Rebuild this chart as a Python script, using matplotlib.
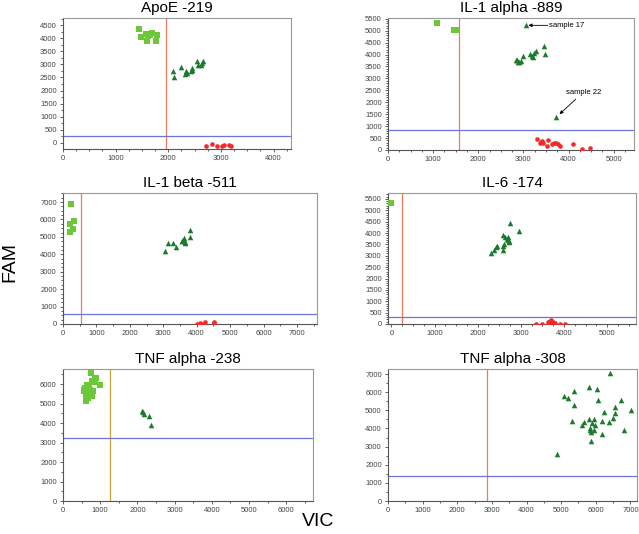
import matplotlib.pyplot as plt
from matplotlib.ticker import MultipleLocator

plt.rcParams['font.family'] = ['Liberation Sans', 'DejaVu Sans']

W, H = 639, 534

# ApoE -219
apoe_sq_x = [1445, 1477, 1572, 1590, 1622, 1698, 1781, 1768, 1654]
apoe_sq_y = [4340, 4034, 4148, 3893, 4097, 4187, 4110, 3893, 4122]
apoe_tri_x = [2097, 2110, 2243, 2338, 2325, 2351, 2446, 2458, 2433, 2541, 2560, 2636, 2667, 2617]
apoe_tri_y = [2748, 2534, 2916, 2737, 2622, 2660, 2850, 2786, 2748, 3142, 2977, 3040, 3130, 2977]
apoe_cir_x = [2712, 2826, 2921, 3028, 3055, 3156, 3188]
apoe_cir_y = [-115, -50, -100, -100, -60, -80, -115]
apoe_cut = (1960, 270)

# IL-1 alpha -889
il1a_sq_x = [1091, 1460, 1504, 1485]
il1a_sq_y = [5323, 5042, 5028, 5035]
il1a_tri_x = [3060, 2861, 2898, 2936, 2993, 3142, 3201, 3230, 3274, 3458, 3473, 3208, 2876, 2839, 3724]
il1a_tri_y = [5223, 3782, 3684, 3740, 3950, 4020, 3950, 4061, 4160, 4340, 4020, 3894, 3700, 3760, 1400]
il1a_cir_x = [3290, 3363, 3414, 3436, 3524, 3546, 3634, 3678, 3732, 3768, 3805, 4100, 4307, 4469, 3385]
il1a_cir_y = [475, 307, 378, 281, 168, 407, 239, 281, 307, 239, 168, 239, 42, 97, 330]
il1a_cut = (1578, 826)

# IL-1 beta -511
il1b_sq_x = [240, 219, 338, 299, 219]
il1b_sq_y = [6885, 5737, 5886, 5450, 5278]
il1b_tri_x = [3042, 3132, 3293, 3371, 3563, 3593, 3632, 3563, 3653, 3790, 3790, 3662]
il1b_tri_y = [4166, 4647, 4664, 4435, 4739, 4836, 4951, 4780, 4647, 5410, 4969, 4680]
il1b_cir_x = [4012, 4090, 4162, 4261, 4509, 4509]
il1b_cir_y = [17, 57, 0, 92, 92, 57]
il1b_cut = (540, 574)

# IL-6 -174
il6_sq_x = [0]
il6_sq_y = [5300]
il6_tri_x = [2309, 2378, 2418, 2441, 2581, 2595, 2610, 2595, 2633, 2673, 2711, 2726, 2756, 2958, 2696, 2733]
il6_tri_y = [3124, 3270, 3387, 3446, 3270, 3416, 3534, 3900, 3812, 3754, 3812, 3636, 4443, 4105, 3710, 3607]
il6_cir_x = [3353, 3492, 3638, 3677, 3700, 3740, 3800, 3910, 4025, 3654]
il6_cir_y = [0, 20, 80, 120, 160, 80, 40, 20, 20, 40]
il6_cut = (250, 320)

# TNF alpha -238
tnf238_sq_x = [759, 866, 777, 847, 1000, 643, 686, 598, 732, 794, 552, 643, 713, 616, 777, 670, 625, 580, 885, 982, 552, 625]
tnf238_sq_y = [6549, 6327, 6138, 6086, 5967, 5932, 5829, 5710, 5710, 5623, 5623, 5538, 5504, 5418, 5366, 5281, 5144, 5796, 6310, 5967, 5710, 5160]
tnf238_tri_x = [2117, 2180, 2322, 2359, 2140]
tnf238_tri_y = [4595, 4475, 4372, 3910, 4540]
tnf238_cut = (1250, 3220)

# TNF alpha -308
tnf308_tri_x = [6408, 5801, 6023, 5367, 5087, 5202, 6052, 6725, 5376, 6543, 7014, 6234, 6552, 5309, 5801,
                5954, 5647, 5607, 5887, 5983, 6167, 6370, 6503, 5829, 5829, 5945, 6821, 6176, 5849, 4884, 5868]
tnf308_tri_y = [7036, 6260, 6188, 6078, 5800, 5672, 5579, 5562, 5285, 5191, 5041, 4931, 4842, 4432, 4543,
                4526, 4360, 4194, 4321, 4194, 4432, 4360, 4582, 4044, 3917, 3917, 3917, 3712, 3307, 2571, 3823]
tnf308_cut = (2850, 1370)

LIGHT = '#6cc83a'
DARK = '#1c7a2c'
RED = '#f42a2a'
VCOL = '#f07a60'
HCOL = '#6b74d8'


def addAxes(fig, left, top, right, bottom):
    return fig.add_axes([left / W, 1 - bottom / H, (right - left) / W, (bottom - top) / H])


def drawPanel(ax, title, sq, tri, cir, cut, xlim, ylim, xstep, xminor, ystep, yminor, vcol=VCOL):
    ax.axvline(cut[0], color=vcol, lw=0.9, zorder=1)
    ax.axhline(cut[1], color=HCOL, lw=0.9, zorder=1)
    if sq is not None:
        ax.scatter(sq[0], sq[1], marker='s', s=14, color=LIGHT, linewidths=0, zorder=3)
    if tri is not None:
        ax.scatter(tri[0], tri[1], marker='^', s=16, color=DARK, linewidths=0, zorder=3)
    if cir is not None:
        ax.scatter(cir[0], cir[1], marker='o', s=11, color=RED, linewidths=0, zorder=3)
    ax.set_xlim(*xlim)
    ax.set_ylim(*ylim)
    ax.xaxis.set_major_locator(MultipleLocator(xstep))
    ax.xaxis.set_minor_locator(MultipleLocator(xminor))
    ax.yaxis.set_major_locator(MultipleLocator(ystep))
    ax.yaxis.set_minor_locator(MultipleLocator(yminor))
    ax.tick_params(which='both', direction='out', labelsize=5.5, colors='#444444', width=0.6, pad=2)
    ax.tick_params(which='major', length=2.5)
    ax.tick_params(which='minor', length=1.5)
    for side in ['top', 'right']:
        ax.spines[side].set_color('#999999')
    for side in ['left', 'bottom']:
        ax.spines[side].set_color('#555555')
    for sp in ax.spines.values():
        sp.set_linewidth(0.8)
    ax.set_title(title, fontsize=11, pad=4)


fig = plt.figure(figsize=(W / 100, H / 100), dpi=100)

ax1 = addAxes(fig, 63, 18, 291, 149)
drawPanel(ax1, 'ApoE -219', (apoe_sq_x, apoe_sq_y), (apoe_tri_x, apoe_tri_y), (apoe_cir_x, apoe_cir_y),
          apoe_cut, (0, 4330), (-230, 4770), 1000, 250, 500, 250)

ax2 = addAxes(fig, 388, 18, 634, 150)
drawPanel(ax2, 'IL-1 alpha -889', (il1a_sq_x, il1a_sq_y), (il1a_tri_x, il1a_tri_y), (il1a_cir_x, il1a_cir_y),
          il1a_cut, (0, 5450), (0, 5530), 1000, 250, 500, 100)
ax2.annotate('', xy=(3110, 5223), xytext=(3540, 5223),
             arrowprops=dict(arrowstyle='-|>', color='black', lw=0.6, mutation_scale=5, shrinkA=0, shrinkB=0))
ax2.text(3570, 5223, 'sample 17', fontsize=5.5, va='center', ha='left')
ax2.annotate('', xy=(3800, 1500), xytext=(4160, 2130),
             arrowprops=dict(arrowstyle='-|>', color='black', lw=0.6, mutation_scale=5, shrinkA=0, shrinkB=0))
ax2.text(3940, 2400, 'sample 22', fontsize=5.5, va='center', ha='left')

ax3 = addAxes(fig, 63, 193, 317, 324)
drawPanel(ax3, 'IL-1 beta -511', (il1b_sq_x, il1b_sq_y), (il1b_tri_x, il1b_tri_y), (il1b_cir_x, il1b_cir_y),
          il1b_cut, (0, 7600), (0, 7520), 1000, 500, 1000, 250)

ax4 = addAxes(fig, 388, 193, 636, 324)
drawPanel(ax4, 'IL-6 -174', (il6_sq_x, il6_sq_y), (il6_tri_x, il6_tri_y), (il6_cir_x, il6_cir_y),
          il6_cut, (-80, 5670), (0, 5760), 1000, 250, 500, 100)

ax5 = addAxes(fig, 63, 369, 313, 501)
drawPanel(ax5, 'TNF alpha -238', (tnf238_sq_x, tnf238_sq_y), (tnf238_tri_x, tnf238_tri_y), None,
          tnf238_cut, (0, 6720), (0, 6770), 1000, 500, 1000, 500, vcol='#c9a040')

ax6 = addAxes(fig, 388, 369, 637, 501)
drawPanel(ax6, 'TNF alpha -308', None, (tnf308_tri_x, tnf308_tri_y), None,
          tnf308_cut, (0, 7190), (0, 7280), 1000, 500, 1000, 500)

fig.text(10 / W, 1 - 262 / H, 'FAM', fontsize=14, rotation=90, ha='center', va='center')
fig.text(318 / W, 1 - 521 / H, 'VIC', fontsize=14, ha='center', va='center')

fig.savefig('out.png', dpi=100)
